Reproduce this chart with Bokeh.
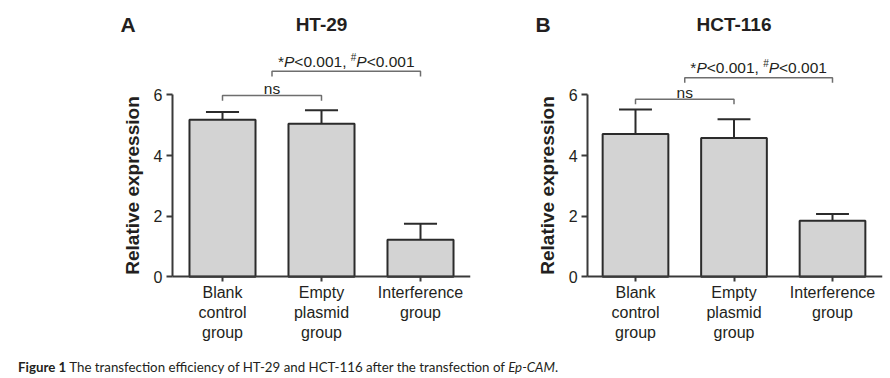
from bokeh.plotting import figure
from bokeh.models import Range1d, FixedTicker, Div, LinearAxis
from bokeh.layouts import row, column
from bokeh.embed import file_html
from bokeh.resources import INLINE
from bokeh.core.properties import value

# ---------------- data ----------------
categories = ["Blank\ncontrol\ngroup", "Empty\nplasmid\ngroup", "Interference\ngroup"]
ht29_mean = [5.18, 5.05, 1.22]
ht29_err = [0.26, 0.44, 0.53]
hct116_mean = [4.71, 4.58, 1.85]
hct116_err = [0.81, 0.62, 0.22]
y_ticks = [0, 2, 4, 6]
panel_letters = ["A", "B"]
panel_titles = ["HT-29", "HCT-116"]
ns_text = "ns"

FONT = "Liberation Sans"
TXT = "#231f20"
AX = "#3a3a3a"
BR = "#6e6e6e"

# Arial / Liberation Sans advance widths (per 1000 em)
W = {"*": 389, "P": 667, "<": 584, "0": 556, ".": 278, "1": 556, ",": 278, " ": 278, "#": 556}


def tw(s, fs):
    return sum(W[c] for c in s) * fs / 1000.0


def make_panel(letter, title, mean, err, width, bl, br, xr, yaxis_x, ns_y, star_y, letter_x):
    p = figure(width=width, height=348, x_range=Range1d(*xr), y_range=Range1d(-0.22, 8.85),
               output_backend="svg", toolbar_location=None,
               min_border_left=bl, min_border_right=br, min_border_top=8, min_border_bottom=65)
    p.outline_line_color = None
    p.xgrid.grid_line_color = None
    p.ygrid.grid_line_color = None
    p.background_fill_color = "white"
    p.border_fill_color = "white"

    xs = list(range(len(categories)))
    # category labels axis (at frame bottom, only labels)
    xa = p.xaxis[0]
    xa.ticker = FixedTicker(ticks=xs)
    xa.major_label_overrides = {i: c for i, c in zip(xs, categories)}
    xa.axis_line_color = None
    xa.major_tick_line_color = None
    xa.minor_tick_line_color = None
    xa.major_tick_out = 0
    xa.major_tick_in = 0
    xa.major_label_text_font = FONT
    xa.major_label_text_font_size = "16px"
    xa.major_label_text_color = TXT
    xa.major_label_standoff = 0

    # visible x axis line + ticks at y = 0
    xl = LinearAxis(fixed_location=0, ticker=FixedTicker(ticks=xs), bounds=(yaxis_x, xr[1]),
                    major_label_overrides={i: "" for i in xs},
                    major_label_text_font_size="1px", major_label_standoff=0,
                    axis_line_width=2, axis_line_color=AX,
                    major_tick_line_width=2, major_tick_line_color=AX,
                    major_tick_in=5, major_tick_out=0, minor_tick_line_color=None)
    p.add_layout(xl, "above")

    ya = p.yaxis[0]
    ya.fixed_location = yaxis_x
    ya.ticker = FixedTicker(ticks=y_ticks)
    ya.bounds = (0, 6)
    ya.axis_line_width = 2
    ya.axis_line_color = AX
    ya.major_tick_line_width = 2
    ya.major_tick_line_color = AX
    ya.major_tick_out = 6
    ya.major_tick_in = 0
    ya.minor_tick_line_color = None
    ya.major_label_text_font = FONT
    ya.major_label_text_font_size = "16px"
    ya.major_label_text_color = TXT
    ya.major_label_standoff = 4
    ya.axis_label = "Relative expression"
    ya.axis_label_text_font = FONT
    ya.axis_label_text_font_style = "bold"
    ya.axis_label_text_font_size = "19px"
    ya.axis_label_text_color = TXT
    ya.axis_label_standoff = 8

    # bars
    p.vbar(x=xs, top=mean, bottom=0, width=0.667, fill_color="#d3d3d3",
           line_color="#2b2b2b", line_width=2)
    tops = [m + e for m, e in zip(mean, err)]
    p.segment(x0=xs, y0=mean, x1=xs, y1=tops, line_color="#2b2b2b", line_width=2)
    p.segment(x0=[x - 0.167 for x in xs], y0=tops, x1=[x + 0.167 for x in xs], y1=tops,
              line_color="#2b2b2b", line_width=2)

    # brackets
    d = 0.17
    p.multi_line(xs=[[0, 0, 1, 1], [0.5, 0.5, 2, 2]],
                 ys=[[ns_y - d, ns_y, ns_y, ns_y - d], [star_y - d, star_y, star_y, star_y - d]],
                 line_color=BR, line_width=1.5)
    p.text(x=[0.5], y=[ns_y], text=[ns_text], text_align="center", text_baseline="alphabetic",
           y_offset=-7, text_font=value(FONT), text_font_size="15.5px", text_color=TXT)

    fs = 15.5
    pieces = [("*", "normal", fs, 0), ("P", "italic", fs, 0), ("<0.001, ", "normal", fs, 0),
              ("#", "normal", 10.0, -4), ("P", "italic", fs, 0), ("<0.001", "normal", fs, 0)]
    total = sum(tw(s, f) for s, _, f, _ in pieces)
    off = -total / 2.0
    for s, style, f, dy in pieces:
        p.text(x=[1.25], y=[star_y], text=[s.rstrip()], text_align="left",
               text_baseline="alphabetic", x_offset=off, y_offset=-10 + dy,
               text_font=value(FONT), text_font_style=style,
               text_font_size=f"{f}px", text_color=TXT)
        off += tw(s, f)

    # title and panel letter
    p.text(x=[1], y=[8.32], text=[title], text_align="center", text_baseline="alphabetic",
           text_font=value(FONT), text_font_style="bold", text_font_size="19px", text_color=TXT)
    p.text(x=[letter_x], y=[8.32], text=[letter], text_align="left", text_baseline="alphabetic",
           text_font=value(FONT), text_font_style="bold", text_font_size="21px", text_color=TXT)
    return p


pA = make_panel(panel_letters[0], panel_titles[0], ht29_mean, ht29_err, 472, 110, 2,
                (-1.1313, 2.505), -0.505, 5.98, 6.78, -1.03)
pB = make_panel(panel_letters[1], panel_titles[1], hct116_mean, hct116_err, 418, 60, 8,
                (-1.0457, 2.5076), -0.487, 5.86, 6.57, -1.015)

caption = Div(text=('<div style="padding:8px 0 0 13px;line-height:12px;font-family:Lato;'
                    'font-size:13.3px;color:#231f20;white-space:nowrap">'
                    '<b>Figure 1</b> The transfection efficiency of HT-29 and HCT-116 after the '
                    'transfection of <i>Ep-CAM</i>.</div>'),
              width=890, height=30)

layout = column(row(pA, pB), caption)
open("out.html", "w").write(file_html(layout, INLINE))
